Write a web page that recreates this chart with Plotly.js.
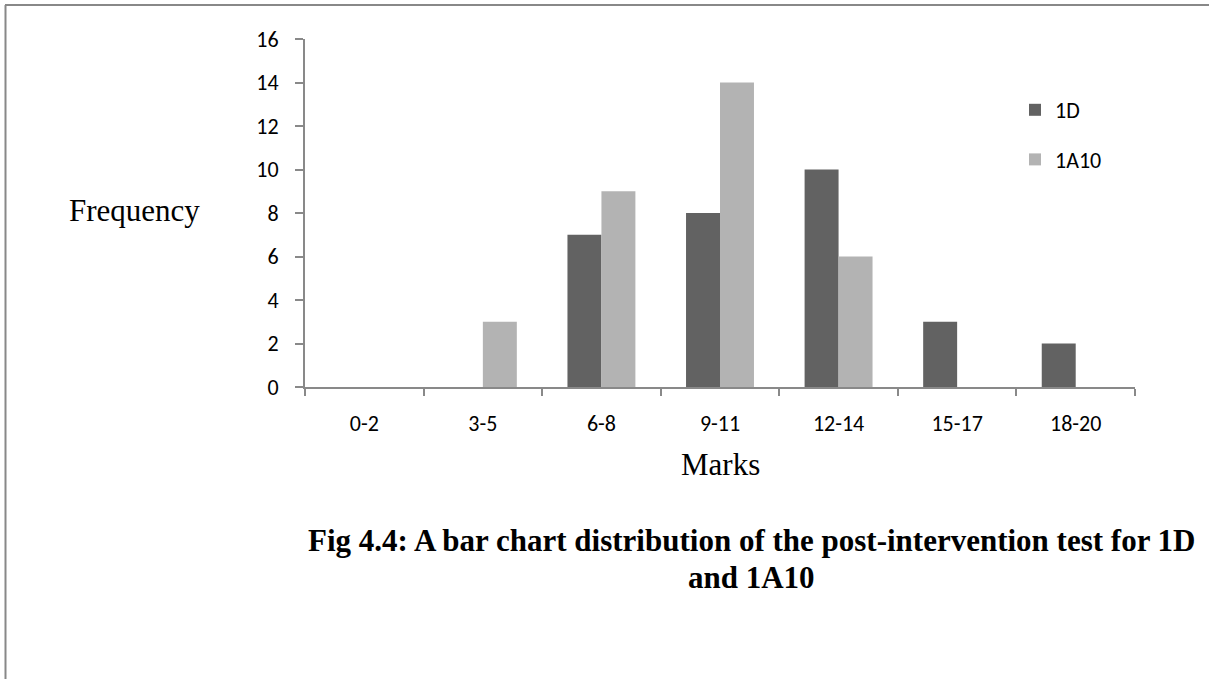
<!DOCTYPE html>
<html>
<head>
<meta charset="utf-8">
<script src="https://cdn.plot.ly/plotly-3.0.1.min.js"></script>
<style>html,body{margin:0;padding:0;background:#fff;}#chart{width:1209px;height:679px;}</style>
</head>
<body>
<div id="chart"></div>
<script>
const categories = ["0-2", "3-5", "6-8", "9-11", "12-14", "15-17", "18-20"];
const series1D = [0, 0, 7, 8, 10, 3, 2];
const series1A10 = [0, 3, 9, 14, 6, 0, 0];
const yTicks = [0, 2, 4, 6, 8, 10, 12, 14, 16];
const captionLines = ["Fig 4.4: A bar chart distribution of the post-intervention test for 1D", "and 1A10"];

const tickFont = {family: "Carlito, Lato, 'Open Sans', sans-serif", size: 22, color: "#000"};
const serif = "'Liberation Serif', 'Times New Roman', serif";

const data = [
  {type: "bar", name: "1D", x: categories, y: series1D, marker: {color: "#626262"}, legendgroup: "a"},
  {type: "bar", name: "1A10", x: categories, y: series1A10, marker: {color: "#b3b3b3"}, legendgroup: "b"}
];

const px = v => (v - 305) / 830;
const py = v => (387 - v) / 348;

const layout = {
  width: 1209, height: 679,
  margin: {l: 305, r: 74, t: 39, b: 292},
  paper_bgcolor: "#fff", plot_bgcolor: "#fff",
  barmode: "group", bargap: 0.427, bargroupgap: 0,
  font: tickFont,
  xaxis: {
    type: "category", showgrid: false, zeroline: false,
    showline: true, linecolor: "#898989", linewidth: 2,
    ticks: "outside", tickson: "boundaries", ticklen: 7, tickcolor: "#898989", tickwidth: 2,
    ticklabelstandoff: 16, tickfont: tickFont, fixedrange: true
  },
  yaxis: {
    range: [0, 16], tickvals: yTicks, showgrid: false, zeroline: false,
    showline: true, linecolor: "#898989", linewidth: 2,
    ticks: "outside", ticklen: 8, tickcolor: "#898989", tickwidth: 2,
    ticklabelstandoff: 12, tickfont: tickFont, fixedrange: true
  },
  showlegend: true,
  legend: {
    x: px(1015), y: py(89), xanchor: "left", yanchor: "top",
    font: tickFont, traceorder: "grouped", tracegroupgap: 18,
    bgcolor: "rgba(0,0,0,0)"
  },
  annotations: [
    {xref: "paper", yref: "paper", x: px(134), y: py(210), text: "Frequency", showarrow: false,
     font: {family: serif, size: 31, color: "#000"}, xanchor: "center", yanchor: "middle"},
    {xref: "paper", yref: "paper", x: px(720), y: py(465), text: "Marks", showarrow: false,
     font: {family: serif, size: 31, color: "#000"}, xanchor: "center", yanchor: "middle"},
    {xref: "paper", yref: "paper", x: px(751), y: py(540), text: "<b>" + captionLines[0] + "</b>",
     showarrow: false, font: {family: serif, size: 31, color: "#000"}, xanchor: "center", yanchor: "middle"},
    {xref: "paper", yref: "paper", x: px(751), y: py(577), text: "<b>" + captionLines[1] + "</b>",
     showarrow: false, font: {family: serif, size: 31, color: "#000"}, xanchor: "center", yanchor: "middle"}
  ],
  shapes: [
    {type: "line", xref: "paper", yref: "paper", x0: px(5), x1: px(1209),
     y0: py(5), y1: py(5), line: {color: "#888", width: 2}},
    {type: "line", xref: "paper", yref: "paper", x0: px(5.5), x1: px(5.5),
     y0: py(5), y1: py(680), line: {color: "#888", width: 2}}
  ]
};

Plotly.newPlot("chart", data, layout, {displayModeBar: false, staticPlot: true});
</script>
</body>
</html>
